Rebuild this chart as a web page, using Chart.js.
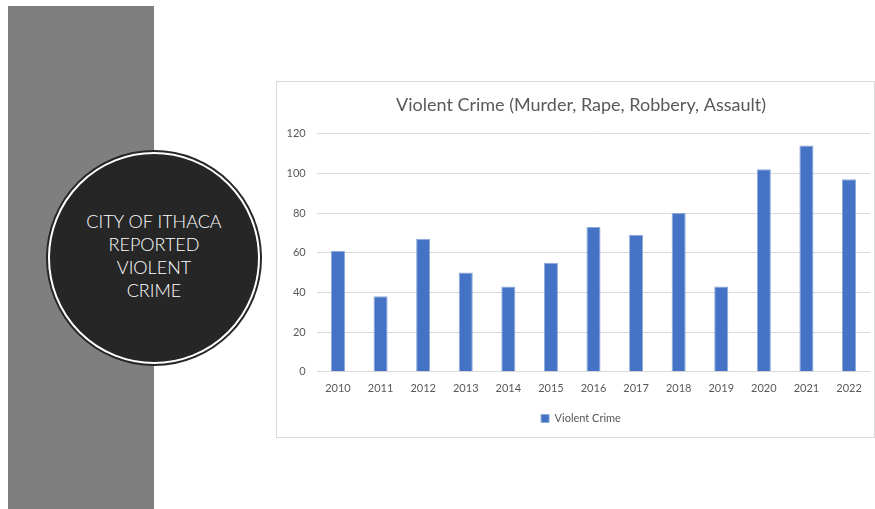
<!DOCTYPE html>
<html>
<head>
<meta charset="utf-8">
<script src="https://cdn.jsdelivr.net/npm/chart.js@4.4.0/dist/chart.umd.min.js"></script>
<style>
  html, body { margin: 0; padding: 0; background: #fff; }
  body { width: 875px; height: 509px; position: relative; overflow: hidden; font-family: Lato, "Open Sans", sans-serif; }
  #panel { position: absolute; left: 8px; top: 6px; width: 146px; height: 503px; background: #7f7f7f; }
  #circle {
    position: absolute; left: 48px; top: 152px; width: 208px; height: 208px;
    border-radius: 50%; background: #262626;
    border: 2px solid #fff; box-shadow: 0 0 0 2px #262626;
    color: #fff; font-size: 18px; font-weight: 300; line-height: 23px; text-align: center;
    display: flex; align-items: center; justify-content: center;
  }
  #circle div { margin-top: -4px; }
  #box { position: absolute; left: 276px; top: 81px; width: 597px; height: 355px; border: 1px solid #d9d9d9; }
  #wrap { position: absolute; left: 277px; top: 82px; width: 610px; height: 354px; }
</style>
</head>
<body>
<div id="panel"></div>
<div id="circle"><div>CITY OF ITHACA<br>REPORTED<br>VIOLENT<br>CRIME</div></div>
<div id="box"></div>
<div id="wrap"><canvas id="myChart" width="610" height="354"></canvas></div>
<script>
let years = ['2010', '2011', '2012', '2013', '2014', '2015', '2016', '2017', '2018', '2019', '2020', '2021', '2022'];
let violentCrime = [61, 38, 67, 50, 43, 55, 73, 69, 80, 43, 102, 114, 97];
let yTicks = [0, 20, 40, 60, 80, 100, 120];

let ctx = document.getElementById('myChart').getContext('2d');
let txt = '#595959';

// y labels spill into the left padding, so widen the axis box after layout
let widenY = {
  id: 'widenY',
  afterLayout: (chart) => {
    chart.scales.y.left -= 15;
  }
};

let myChart = new Chart(ctx, {
  type: 'bar',
  data: {
    labels: years,
    datasets: [{
      label: 'Violent Crime',
      data: violentCrime,
      backgroundColor: '#4472c4',
      borderColor: '#8eaadb',
      borderWidth: 1,
      categoryPercentage: 1,
      barPercentage: 0.33
    }]
  },
  plugins: [widenY],
  options: {
    responsive: false,
    animation: false,
    layout: {
      // left padding shifts the centre of title and legend to the right
      padding: { left: 14.7, right: 16.7, top: 0, bottom: 2 }
    },
    plugins: {
      title: {
        display: true,
        text: 'Violent Crime (Murder, Rape, Robbery, Assault)',
        color: txt,
        font: { family: 'Lato', size: 18, weight: 'normal' },
        padding: { top: 12, bottom: 18 }
      },
      legend: {
        position: 'bottom',
        labels: {
          color: txt,
          boxWidth: 8,
          boxHeight: 8,
          padding: 8,
          font: { family: 'Lato', size: 11 }
        }
      },
      tooltip: { enabled: false }
    },
    scales: {
      x: {
        grid: { display: false, drawTicks: false },
        border: { display: false },
        ticks: {
          color: txt,
          padding: 10,
          maxRotation: 0,
          font: { family: 'Lato', size: 11 }
        }
      },
      y: {
        min: 0,
        max: 120,
        afterBuildTicks: (scale) => {
          scale.ticks = yTicks.map(v => ({ value: v }));
        },
        afterFit: (scale) => {
          scale.width = 25;
        },
        grid: { color: '#d9d9d9', drawTicks: false },
        border: { display: false },
        ticks: {
          color: txt,
          padding: 11,
          font: { family: 'Lato', size: 11 }
        }
      }
    }
  }
});
</script>
</body>
</html>
